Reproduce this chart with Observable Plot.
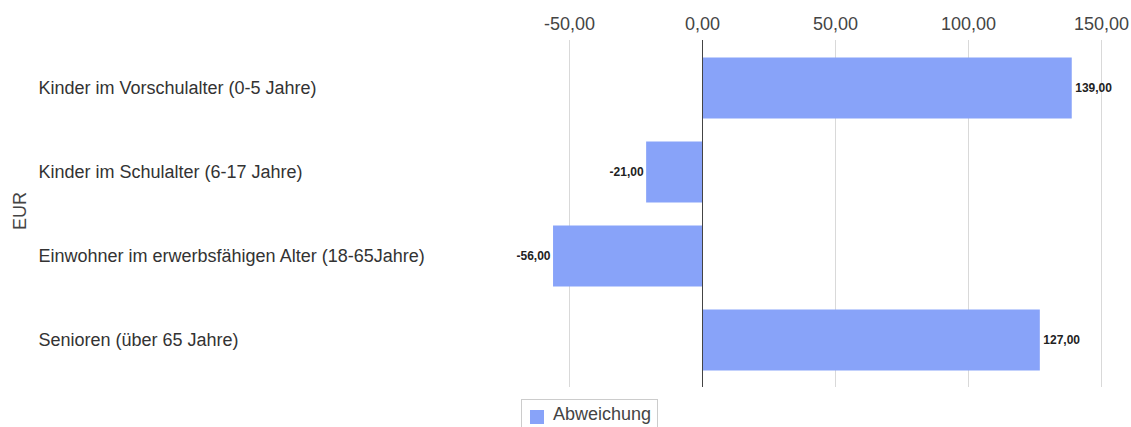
<!DOCTYPE html>
<html>
<head>
<meta charset="utf-8">
<script src="https://cdn.jsdelivr.net/npm/d3@7"></script>
<script src="https://cdn.jsdelivr.net/npm/@observablehq/plot@0.6"></script>
<style>
  body { margin: 0; background: #fff; font-family: "Liberation Sans", Arial, sans-serif; }
  #wrap { position: relative; width: 1131px; height: 427px; overflow: hidden; }
  #legend { position: absolute; left: 521px; top: 399px; width: 137px; height: 40px; border: 1px solid #ccc; box-sizing: border-box; }
  #legend .sw { position: absolute; left: 8px; top: 10px; width: 14px; height: 14px; background: #88a3f9; }
  #legend .tx { position: absolute; left: 31px; top: 4px; font-size: 18px; color: #444; }
</style>
</head>
<body>
<div id="wrap"><div id="chart"></div>
<div id="legend"><div class="sw"></div><div class="tx"></div></div></div>
<script>
const categories = [
  "Kinder im Vorschulalter (0-5 Jahre)",
  "Kinder im Schulalter (6-17 Jahre)",
  "Einwohner im erwerbsfähigen Alter (18-65Jahre)",
  "Senioren (über 65 Jahre)"
];
const values = [139, -21, -56, 127];
const xTicks = [-50, 0, 50, 100, 150];
const seriesName = "Abweichung";
const axisTitle = "EUR";

const data = categories.map((c, i) => ({category: c, value: values[i]}));
const fmt = v => v.toFixed(2).replace(".", ",");
const W = 1131, H = 398;
const x0 = 702, pxPerUnit = 133 / 50;
const domainMin = -60, domainMax = 150;
const left = x0 + domainMin * pxPerUnit;
const right = x0 + domainMax * pxPerUnit;

const chart = Plot.plot({
  width: W,
  height: H,
  marginTop: 40,
  marginBottom: H - 387,
  marginLeft: left,
  marginRight: W - right,
  style: {fontFamily: "Liberation Sans, Arial, sans-serif", background: "#fff"},
  x: {domain: [domainMin, domainMax], range: [left, right]},
  y: {domain: categories, range: [46, 382], padding: 0, axis: null},
  marks: [
    Plot.gridX(xTicks, {stroke: "#d9d9d9", strokeOpacity: 1}),
    Plot.axisX(xTicks, {anchor: "top", tickSize: 0, tickPadding: 11, tickFormat: fmt, fontSize: 18, fill: "#444", label: null}),
    Plot.barX(data, {x: "value", y: "category", fill: "#88a3f9", insetTop: 11.5, insetBottom: 11.5}),
    Plot.ruleX([0], {stroke: "#444", strokeWidth: 1}),
    Plot.text(data.filter(d => d.value >= 0), {x: "value", y: "category", text: d => fmt(d.value),
      textAnchor: "start", dx: 3, fontSize: 12, fontWeight: "bold", fill: "#222"}),
    Plot.text(data.filter(d => d.value < 0), {x: "value", y: "category", text: d => fmt(d.value),
      textAnchor: "end", dx: -3, fontSize: 12, fontWeight: "bold", fill: "#222"}),
    Plot.text(data, {y: "category", text: "category", frameAnchor: "left", textAnchor: "start",
      dx: 38 - left, fontSize: 18, fill: "#333"}),
    Plot.text([axisTitle], {frameAnchor: "left", dx: 20 - left, dy: 16,
      rotate: -90, fontSize: 18, fill: "#444", text: d => d})
  ]
});
document.getElementById("chart").appendChild(chart);
document.querySelector("#legend .tx").textContent = seriesName;
</script>
</body>
</html>
